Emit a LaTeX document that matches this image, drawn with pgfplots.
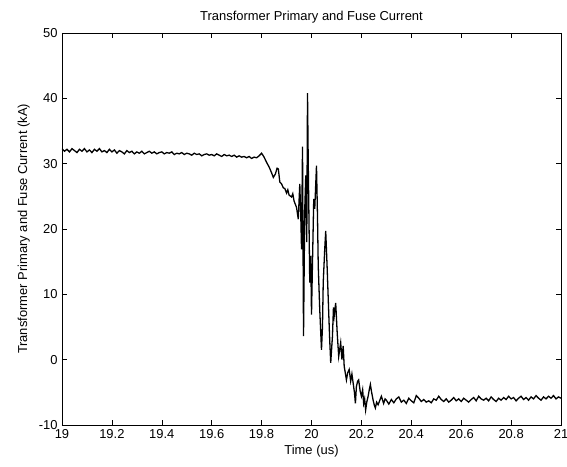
\documentclass[border=0pt]{standalone}
\usepackage{fontspec}
\setmainfont{Liberation Sans}
\usepackage{pgfplots}
\pgfplotsset{compat=1.18}

\begin{document}
\fontsize{13}{15}\selectfont
\begin{tikzpicture}
  \begin{axis}[
      scale only axis,
      width=499bp, height=392bp,
      xmin=19, xmax=21, ymin=-10, ymax=50,
      xtick={19,19.2,...,21.01},
      ytick={-10,0,...,50},
      tick align=inside,
      major tick length=5bp,
      tick style={black, line width=0.6pt},
      axis line style={line width=0.6pt},
      xticklabel style={/pgf/number format/fixed},
      /pgf/number format/assume math mode=true,
      scaled ticks=false,
      title={Transformer Primary and Fuse Current},
      title style={yshift=-1bp},
      xlabel={Time (us)},
      ylabel={Transformer Primary and Fuse Current (kA)},
      xlabel style={yshift=2bp},
      ylabel style={yshift=0bp},
    ]
    \addplot [black, line width=1.3pt] coordinates {
      (19.00,32.3) (19.01,31.9) (19.02,32.2) (19.03,31.8) (19.04,32.3)
      (19.05,32.0) (19.06,31.7) (19.07,32.2) (19.08,31.9) (19.09,32.3)
      (19.10,31.8) (19.11,32.1) (19.12,31.7) (19.13,32.2) (19.14,31.9)
      (19.15,32.3) (19.16,31.8) (19.17,32.0) (19.18,31.7) (19.19,32.2)
      (19.20,31.8) (19.21,32.1) (19.22,31.6) (19.23,32.0) (19.24,31.8)
      (19.25,31.5) (19.26,32.0) (19.27,31.7) (19.28,31.9) (19.29,31.5)
      (19.30,31.8) (19.31,31.6) (19.32,31.9) (19.33,31.5) (19.34,31.7)
      (19.35,31.9) (19.36,31.6) (19.37,31.8) (19.38,31.5) (19.39,31.7)
      (19.40,31.8) (19.41,31.5) (19.42,31.7) (19.43,31.6) (19.44,31.8)
      (19.45,31.4) (19.46,31.6) (19.47,31.5) (19.48,31.7) (19.49,31.4)
      (19.50,31.6) (19.51,31.5) (19.52,31.3) (19.53,31.6) (19.54,31.4)
      (19.55,31.5) (19.56,31.2) (19.57,31.4) (19.58,31.5) (19.59,31.3)
      (19.60,31.4) (19.61,31.2) (19.62,31.5) (19.63,31.3) (19.64,31.1)
      (19.65,31.4) (19.66,31.2) (19.67,31.3) (19.68,31.1) (19.69,31.3)
      (19.70,31.0) (19.71,31.2) (19.72,31.0) (19.73,31.1) (19.74,30.9)
      (19.75,31.1) (19.76,30.8) (19.77,31.0) (19.78,30.9) (19.79,31.2)
      (19.80,31.6) (19.81,31.0) (19.82,30.2) (19.83,29.5) (19.84,28.6)
      (19.847,27.9) (19.855,28.4) (19.862,29.3) (19.867,29.2) (19.873,27.2)
      (19.88,26.9) (19.887,26.3) (19.893,26.2) (19.90,25.5) (19.905,26.0)
      (19.91,25.2) (19.92,24.9) (19.925,25.4) (19.93,24.3) (19.94,23.3)
      (19.947,21.5) (19.953,26.9) (19.957,22.0) (19.96,16.9) (19.964,32.6)
      (19.968,3.6) (19.973,23.1) (19.977,28.2) (19.981,18.0) (19.984,40.8)
      (19.987,30.0) (19.989,24.1) (19.993,11.8) (19.997,15.9) (20.0,6.9)
      (20.004,14.9) (20.009,24.6) (20.013,23.1) (20.02,29.7) (20.024,22.0)
      (20.027,14.4) (20.033,7.7) (20.04,1.5) (20.044,5.0) (20.047,11.8)
      (20.053,16.9) (20.057,19.7) (20.063,13.8) (20.069,7.2) (20.073,3.0)
      (20.077,-0.5) (20.084,3.6) (20.088,8.0) (20.091,6.7) (20.097,8.7)
      (20.103,4.1) (20.109,0.5) (20.117,2.6) (20.122,0.0) (20.127,2.1)
      (20.131,-1.0) (20.14,-3.1) (20.145,-2.0) (20.151,-1.5) (20.157,-3.3)
      (20.162,-2.2) (20.167,-3.6) (20.172,-5.0) (20.176,-6.7) (20.18,-4.1)
      (20.185,-3.3) (20.189,-3.1) (20.195,-4.8) (20.2,-5.6) (20.205,-4.6)
      (20.209,-6.7) (20.213,-6.0) (20.217,-7.7) (20.222,-6.4) (20.227,-5.6)
      (20.232,-4.5) (20.236,-3.8) (20.241,-5.0) (20.247,-6.2) (20.252,-7.0)
      (20.256,-7.4) (20.261,-6.5) (20.267,-6.9) (20.273,-6.3) (20.28,-5.6)
      (20.285,-6.2) (20.289,-6.7) (20.295,-6.0) (20.30,-6.2)
      (20.31,-6.8) (20.32,-6.1) (20.33,-6.6) (20.34,-6.0) (20.35,-5.7)
      (20.36,-6.5) (20.37,-6.2) (20.38,-6.7) (20.39,-5.9) (20.40,-6.3)
      (20.41,-6.6) (20.42,-5.5) (20.43,-5.9) (20.44,-6.4) (20.45,-6.1)
      (20.46,-6.5) (20.47,-6.3) (20.48,-6.6) (20.49,-6.0) (20.50,-6.2)
      (20.51,-5.6) (20.52,-6.1) (20.53,-6.4) (20.54,-6.0) (20.55,-6.5)
      (20.56,-6.2) (20.57,-5.8) (20.58,-6.3) (20.59,-6.0) (20.60,-6.4)
      (20.61,-5.9) (20.62,-6.2) (20.63,-6.5) (20.64,-6.1) (20.65,-5.8)
      (20.66,-6.3) (20.67,-5.6) (20.68,-6.0) (20.69,-6.2) (20.70,-5.9)
      (20.71,-6.3) (20.72,-5.7) (20.73,-6.1) (20.74,-6.4) (20.75,-5.9)
      (20.76,-6.2) (20.77,-5.8) (20.78,-6.1) (20.79,-5.6) (20.80,-6.0)
      (20.81,-5.8) (20.82,-6.3) (20.83,-5.9) (20.84,-5.6) (20.85,-6.1)
      (20.86,-5.8) (20.87,-6.2) (20.88,-5.7) (20.89,-6.0) (20.90,-5.5)
      (20.91,-5.9) (20.92,-6.2) (20.93,-5.7) (20.94,-6.0) (20.95,-5.6)
      (20.96,-5.9) (20.97,-5.5) (20.98,-6.0) (20.99,-5.7) (21.00,-5.9)
    };
  \end{axis}
  \pgfresetboundingbox
  \path ([shift={(-62bp,-42bp)}]current axis.south west)
    rectangle ([shift={(6bp,33bp)}]current axis.north east);
\end{tikzpicture}
\end{document}
